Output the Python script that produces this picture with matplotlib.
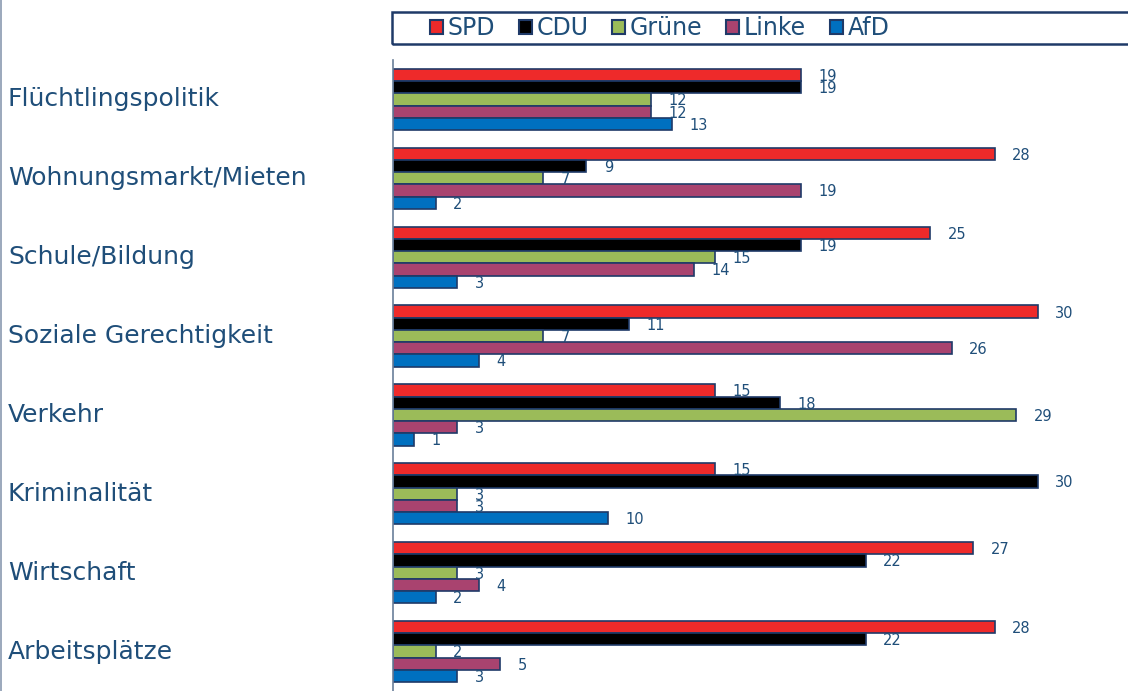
import matplotlib.pyplot as plt
import matplotlib.transforms as mtransforms
from matplotlib.patches import Rectangle, Patch
from matplotlib.lines import Line2D
import numpy as np

# Daten
themen = ['Flüchtlingspolitik', 'Wohnungsmarkt/Mieten', 'Schule/Bildung',
          'Soziale Gerechtigkeit', 'Verkehr', 'Kriminalität', 'Wirtschaft',
          'Arbeitsplätze']
parteien = ['SPD', 'CDU', 'Grüne', 'Linke', 'AfD']
spd = [19, 28, 25, 30, 15, 15, 27, 28]
cdu = [19, 9, 19, 11, 18, 30, 22, 22]
gruene = [12, 7, 15, 7, 29, 3, 3, 2]
linke = [12, 19, 14, 26, 3, 3, 4, 5]
afd = [13, 2, 3, 4, 1, 10, 2, 3]
werte = [spd, cdu, gruene, linke, afd]
farben = ['#ee2a2a', '#000000', '#9bbb59', '#a9436f', '#0070c0']

textfarbe = '#1f4e79'
randfarbe = '#1f3a68'

fig = plt.figure(figsize=(11.28, 6.91), dpi=100)
ax = fig.add_axes([393 / 1128, 0, 1 - 393 / 1128, 1 - 60 / 691])

n = len(themen)
hoehe = 0.155
for j, (partei, vals, farbe) in enumerate(zip(parteien, werte, farben)):
    y = np.arange(n) + (j - 2) * hoehe
    ax.barh(y, vals, height=hoehe, color=farbe, edgecolor=randfarbe,
            linewidth=1.2, label=partei)
    for yy, v in zip(y, vals):
        ax.annotate(str(v), (v, yy), xytext=(12.5, -1), textcoords='offset points',
                    va='center', ha='left', fontsize=10.5, color=textfarbe)

ax.set_xlim(0, 34.2)
ax.set_ylim(n - 0.5, -0.5)
ax.set_xticks([])
ax.set_yticks([])
for s in ['top', 'right', 'bottom']:
    ax.spines[s].set_visible(False)
ax.spines['left'].set_color('#6a7f99')
ax.spines['left'].set_linewidth(1.2)

# Kategorien links
trans = mtransforms.blended_transform_factory(fig.transFigure, ax.transData)
for i, t in enumerate(themen):
    ax.text(8 / 1128, i, t, transform=trans, ha='left', va='center',
            fontsize=18, color=textfarbe, clip_on=False)

# Legende mit Rahmen
fig.add_artist(Rectangle((392 / 1128, 1 - 44 / 691), 0.7, 32 / 691,
                         transform=fig.transFigure, fill=False,
                         edgecolor=randfarbe, linewidth=1.8))
handles = [Patch(facecolor=f, edgecolor=randfarbe, linewidth=1.5) for f in farben]
fig.legend(handles, parteien, loc='center left', ncol=5, frameon=False,
           bbox_to_anchor=(409 / 1128, 1 - 28 / 691),
           handlelength=0.55, handleheight=0.55, handletextpad=0.2,
           columnspacing=1.0, labelcolor=textfarbe,
           prop={'family': 'DejaVu Sans', 'size': 17})

# linker Bildrand
fig.add_artist(Line2D([0.5 / 1128, 0.5 / 1128], [0, 1], transform=fig.transFigure,
                      color='#8a9ab0', linewidth=1.2))

fig.savefig('out.png', dpi=100)
